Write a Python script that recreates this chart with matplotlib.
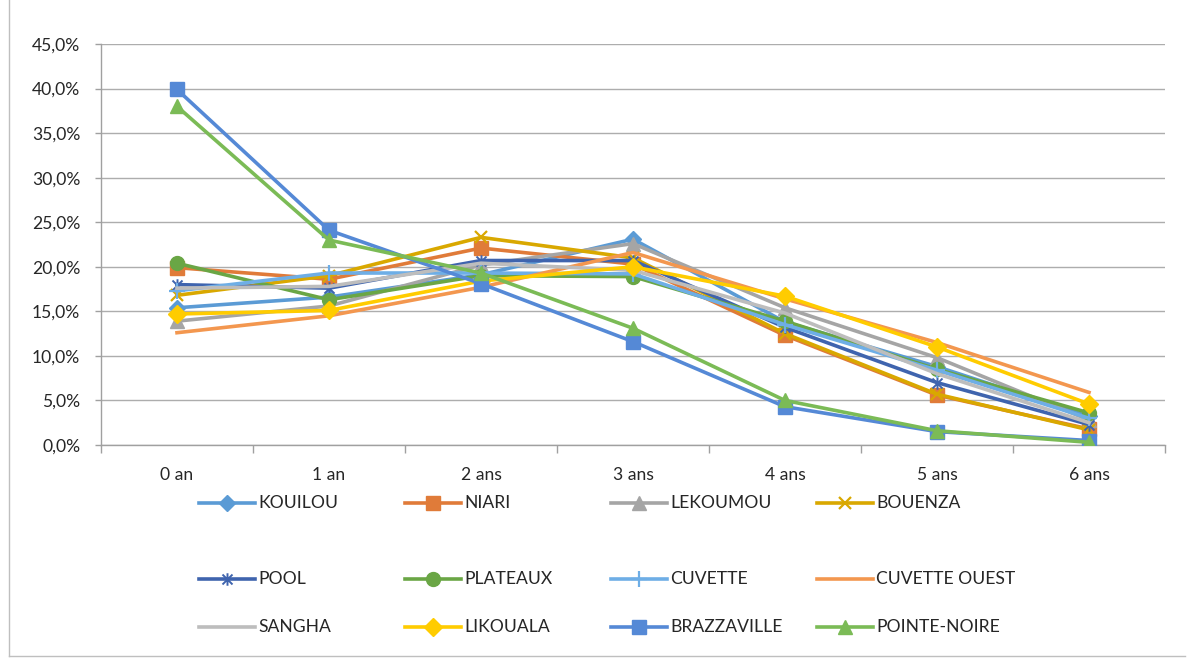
import matplotlib
matplotlib.use("Agg")
import matplotlib.pyplot as plt
from matplotlib.lines import Line2D
from matplotlib.path import Path
from matplotlib.ticker import FuncFormatter, FixedLocator

plt.rcParams['font.family'] = ['Lato', 'DejaVu Sans']

categories = ["0 an", "1 an", "2 ans", "3 ans", "4 ans", "5 ans", "6 ans"]

kouilou = [15.4, 16.6, 19.1, 23.1, 13.8, 8.8, 3.2]
niari = [19.9, 18.6, 22.1, 20.3, 12.3, 5.6, 1.8]
lekoumou = [13.9, 15.6, 20.2, 22.6, 15.4, 9.8, 2.8]
bouenza = [16.8, 19.0, 23.3, 21.0, 12.5, 5.7, 1.7]
pool = [18.0, 17.6, 20.7, 20.7, 13.2, 7.0, 2.3]
plateaux = [20.4, 16.3, 19.0, 18.9, 13.9, 8.5, 3.6]
cuvette = [17.3, 19.3, 19.3, 19.2, 13.5, 8.4, 3.0]
cuvette_ouest = [12.6, 14.5, 17.7, 21.6, 16.4, 11.5, 5.9]
sangha = [17.6, 17.8, 20.4, 19.6, 14.8, 8.0, 2.5]
likouala = [14.7, 15.1, 18.4, 20.0, 16.7, 11.0, 4.6]
brazzaville = [39.9, 24.1, 18.1, 11.6, 4.3, 1.5, 0.5]
pointe_noire = [38.0, 23.0, 19.3, 13.1, 5.0, 1.6, 0.3]

series_names = ["KOUILOU", "NIARI", "LEKOUMOU", "BOUENZA", "POOL", "PLATEAUX",
                "CUVETTE", "CUVETTE OUEST", "SANGHA", "LIKOUALA", "BRAZZAVILLE",
                "POINTE-NOIRE"]
series_values = [kouilou, niari, lekoumou, bouenza, pool, plateaux, cuvette,
                 cuvette_ouest, sangha, likouala, brazzaville, pointe_noire]

# asterisk marker: x with a vertical bar
star = Path([(-1, -1), (1, 1), (-1, 1), (1, -1), (0, -1.25), (0, 1.25)],
            [Path.MOVETO, Path.LINETO, Path.MOVETO, Path.LINETO, Path.MOVETO, Path.LINETO])

styles = [
    dict(color="#5B9BD5", marker="D", ms=8),
    dict(color="#E07B39", marker="s", ms=9.5),
    dict(color="#A5A5A5", marker="^", ms=10),
    dict(color="#D9A800", marker="x", ms=9, mew=1.6),
    dict(color="#3F64AE", marker=star, ms=9, mew=1.4),
    dict(color="#6AA645", marker="o", ms=10),
    dict(color="#6EAEE6", marker="+", ms=12, mew=1.6),
    dict(color="#F3974F", marker=None, ms=0),
    dict(color="#BDBDBD", marker=None, ms=0),
    dict(color="#FFCC00", marker="D", ms=9),
    dict(color="#5589D6", marker="s", ms=10),
    dict(color="#7BBB56", marker="^", ms=10),
]

FS = 12.6
LW = 2.6

W, H = 1191, 661
fig = plt.figure(figsize=(W / 100, H / 100), dpi=100)
ax = fig.add_axes([101 / W, 1 - 445 / H, (1165 - 101) / W, (445 - 44) / H])

x = list(range(len(categories)))
lines = []
for name, vals, st in zip(series_names, series_values, styles):
    ln, = ax.plot(x, vals, color=st["color"], lw=LW, marker=st["marker"],
                  markersize=st["ms"], markeredgewidth=st.get("mew", 1.0),
                  markerfacecolor=st["color"], markeredgecolor=st["color"],
                  solid_joinstyle="round", label=name, zorder=3)
    lines.append(ln)

ax.set_xlim(-0.5, len(categories) - 0.5)
ax.set_ylim(0, 45)
ax.yaxis.set_major_locator(FixedLocator([i * 5 for i in range(10)]))
ax.yaxis.set_major_formatter(FuncFormatter(lambda v, p: f"{v:.1f}%".replace(".", ",")))
ax.grid(axis="y", color="#ADADAD", lw=1.0, zorder=0)
ax.set_axisbelow(True)

ax.xaxis.set_major_locator(FixedLocator([i - 0.5 for i in range(len(categories) + 1)]))
ax.xaxis.set_major_formatter(FuncFormatter(lambda v, p: ""))
ax.set_xticks(x, categories, minor=True)
ax.tick_params(axis="x", which="major", length=6, width=1, color="#A0A0A0", direction="out")
ax.tick_params(axis="x", which="minor", length=0, pad=16, labelsize=FS, labelcolor="#262626")
ax.tick_params(axis="y", length=4, width=1, color="#A0A0A0", direction="out", pad=11,
               labelsize=FS, labelcolor="#262626")

for side in ("top", "right"):
    ax.spines[side].set_visible(False)
for side in ("left", "bottom"):
    ax.spines[side].set_color("#A0A0A0")
    ax.spines[side].set_linewidth(1.0)

# legend drawn as a 4-column grid below the plot
col_line_x = [199, 405, 611, 817]
row_y = [503, 579, 627]
for i, ln in enumerate(lines):
    r, c = divmod(i, 4)
    x0 = col_line_x[c]
    y0 = row_y[r]
    fx = [x0 / W, (x0 + 56) / W]
    fy = [1 - y0 / H] * 2
    fig.add_artist(Line2D(fx, fy, transform=fig.transFigure, color=ln.get_color(),
                          lw=LW))
    if ln.get_marker() not in (None, "None", ""):
        fig.add_artist(Line2D([(x0 + 28) / W], [1 - y0 / H], transform=fig.transFigure,
                              marker=ln.get_marker(), markersize=ln.get_markersize(),
                              markeredgewidth=ln.get_markeredgewidth(),
                              color=ln.get_color(), lw=0))
    fig.text((x0 + 59) / W, 1 - y0 / H, ln.get_label(), ha="left", va="center",
             fontsize=FS, color="#262626")

# chart area border
fig.add_artist(Line2D([9 / W, 9 / W], [1 - 656 / H, 1], transform=fig.transFigure,
                      color="#BFBFBF", lw=1))
fig.add_artist(Line2D([9 / W, 1 - 6 / W], [1 - 656 / H, 1 - 656 / H], transform=fig.transFigure,
                      color="#BFBFBF", lw=1))

fig.savefig("out.png", dpi=100, facecolor="white")
